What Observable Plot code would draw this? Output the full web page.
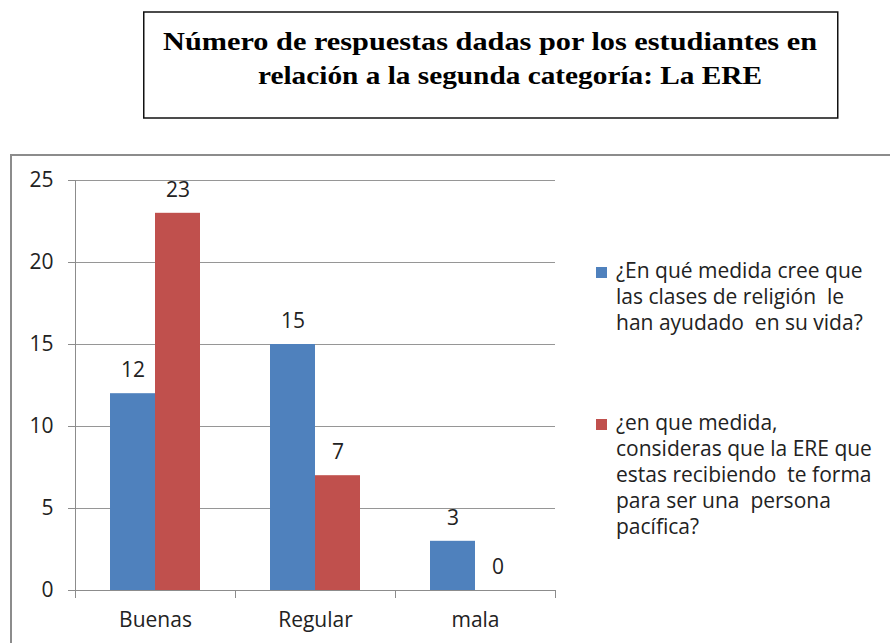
<!DOCTYPE html>
<html><head><meta charset="utf-8">
<script src="https://cdn.jsdelivr.net/npm/d3@7"></script>
<script src="https://cdn.jsdelivr.net/npm/@observablehq/plot@0.6"></script>
<style>
html,body{margin:0;padding:0;background:#fff;}
body{width:890px;height:643px;overflow:hidden;position:relative;}
#title{position:absolute;left:0;top:0;}
#chartbox{position:absolute;left:10px;top:154px;width:1000px;height:600px;border:2px solid #8c8c8c;box-sizing:border-box;}
#chart{position:absolute;left:0;top:0;}
#legend{position:absolute;left:0;top:0;font-family:"Open Sans";font-size:21px;line-height:26px;color:#222;}
.item{position:absolute;left:616px;white-space:pre;}
.sw{position:absolute;left:-20px;top:10.5px;width:11px;height:11px;}
</style></head><body>
<svg id="title" width="890" height="130" xmlns="http://www.w3.org/2000/svg">
  <rect x="143.75" y="12" width="694" height="106" fill="none" stroke="#111" stroke-width="1.5"/>
  <text id="t1" x="163" y="50" textLength="654" lengthAdjust="spacingAndGlyphs" font-family="Liberation Serif" font-weight="bold" font-size="26" fill="#000"></text>
  <text id="t2" x="258" y="84" textLength="504" lengthAdjust="spacingAndGlyphs" font-family="Liberation Serif" font-weight="bold" font-size="26" fill="#000"></text>
</svg>
<div id="chartbox"><div id="chart"></div></div>
<div id="legend"></div>
<script>
const titleLines = ["Número de respuestas dadas por los estudiantes en", "relación a la segunda categoría: La ERE"];
const categories = ["Buenas", "Regular", "mala"];
const seriesLegendLines = [
  ["¿En qué medida cree que", "las clases de religión  le", "han ayudado  en su vida?"],
  ["¿en que medida,", "consideras que la ERE que", "estas recibiendo  te forma", "para ser una  persona", "pacífica?"]
];
const seriesNames = seriesLegendLines.map(l => l.join(" "));
const seriesA = [12, 15, 3];
const seriesB = [23, 7, 0];
const yTicks = [0, 5, 10, 15, 20, 25];
const seriesColors = ["#4F81BD", "#C0504D"];

document.getElementById("t1").textContent = titleLines[0];
document.getElementById("t2").textContent = titleLines[1];

const data = categories.flatMap((c, i) => [
  {category: c, series: seriesNames[0], value: seriesA[i]},
  {category: c, series: seriesNames[1], value: seriesB[i]}
]);

const axisGray = "#8c8c8c";
const chart = Plot.plot({
  width: 878, height: 494,
  marginLeft: 62, marginRight: 334, marginTop: 24, marginBottom: 60,
  style: {fontFamily: "Open Sans", fontSize: "21px", color: "#222", background: "transparent", overflow: "visible"},
  fx: {domain: categories, padding: 0, label: null},
  x: {domain: seriesNames, paddingInner: 0, paddingOuter: 0.75, axis: null},
  y: {domain: [0, 25], label: null},
  color: {domain: seriesNames, range: seriesColors},
  marks: [
    Plot.gridY(yTicks, {stroke: "#969696", strokeOpacity: 1}),
    Plot.barY(data, {fx: "category", x: "series", y: "value", fill: "series"}),
    Plot.text(data, {fx: "category", x: "series", y: "value", text: d => String(d.value), dy: -23, fontSize: 21, fill: "#222"}),
    Plot.ruleY([0], {stroke: axisGray}),
    Plot.frame({anchor: "left", facetAnchor: "left", stroke: axisGray, insetBottom: -7}),
    Plot.frame({anchor: "right", stroke: axisGray, insetTop: 410, insetBottom: -7}),
    Plot.axisY(yTicks, {tickSize: 7, tickPadding: 15, stroke: axisGray, fontSize: 21, label: null}),
    Plot.axisFx({anchor: "bottom", tickSize: 0, tickPadding: 22, fontSize: 21, label: null})
  ]
});
document.getElementById("chart").appendChild(chart);

const legend = document.getElementById("legend");
const legendTops = [256.5, 408.5];
seriesLegendLines.forEach((lines, i) => {
  const item = document.createElement("div");
  item.className = "item";
  item.style.top = legendTops[i] + "px";
  item.textContent = lines.join("\n");
  const sw = document.createElement("div");
  sw.className = "sw";
  sw.style.background = seriesColors[i];
  item.appendChild(sw);
  legend.appendChild(item);
});
</script>
</body></html>
